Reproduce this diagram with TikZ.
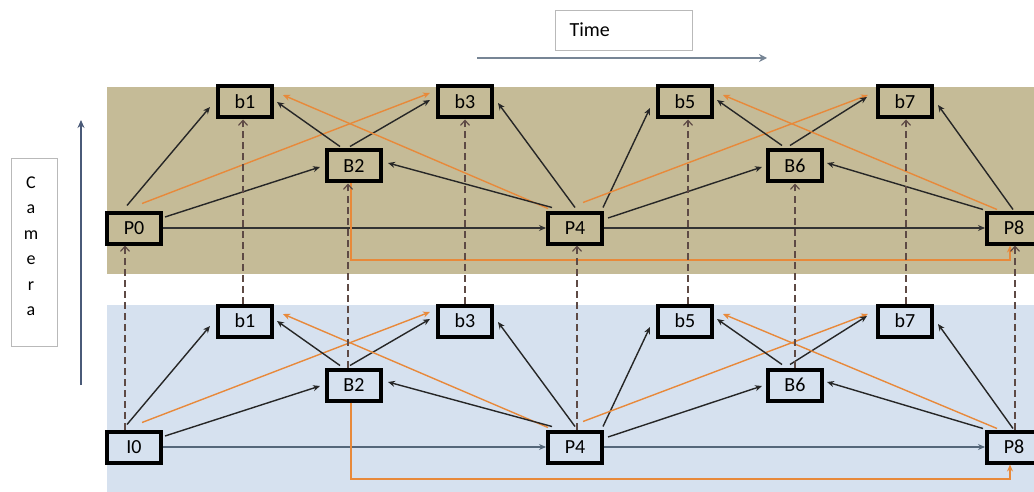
\documentclass[tikz,border=0pt]{standalone}
\usepackage{fontspec}
\setmainfont{Carlito}
\usetikzlibrary{arrows.meta,calc}

\definecolor{khaki}{HTML}{C5BB97}
\definecolor{paleblue}{HTML}{D6E1EF}
\definecolor{refor}{HTML}{E8893A}
\definecolor{interview}{HTML}{5E4A45}
\definecolor{slate}{HTML}{55677A}
\definecolor{axisblue}{HTML}{4A5A78}

\begin{document}
\begin{tikzpicture}[x=1pt,y=-1pt,
  frame/.style={draw=black, line width=4pt, minimum width=54pt, minimum height=31pt,
    inner sep=0pt, font=\fontsize{20}{20}\selectfont},
  pred/.style={-{Stealth[length=7pt,width=6pt]}, line width=1.4pt, draw=black!85},
  bipred/.style={-{Stealth[length=7pt,width=6pt]}, line width=1.4pt, draw=refor},
  chain/.style={-{Stealth[length=7pt,width=6pt]}, line width=1.7pt},
  interview/.style={-{Straight Barb[length=5pt,width=9pt]}, line width=1.2pt, draw=interview,
    dash pattern=on 7pt off 4pt},
  label box/.style={draw=gray!55, line width=0.8pt}]

\useasboundingbox (0,0) rectangle (1034,492);
\clip (0,0) rectangle (1034,492);

% view bands
\fill[khaki] (107,87) rectangle (1034,274);
\fill[paleblue] (107,305) rectangle (1034,492);

% time axis
\node[label box, minimum width=137pt, minimum height=40pt] (timebox) at (623.5,30) {};
\node[anchor=west, font=\fontsize{20}{20}\selectfont] (timelbl) at (566,30) {Time};
\coordinate (t0) at (477,58);
\coordinate (t1) at (767,58);
\draw[line width=2.2pt, draw=slate!80, -{Stealth[length=8pt,width=8pt]}] (t0) -- (t1);

% camera axis
\node[label box, minimum width=46pt, minimum height=188pt] (cambox) at (34,252) {};
\node[align=center, font=\fontsize{18}{25.5}\selectfont] (camlbl) at (31,246) {C\\a\\m\\e\\r\\a};
\coordinate (c0) at (81,385);
\coordinate (c1) at (81,120);
\draw[line width=1.2pt, draw=axisblue, -{Stealth[length=8pt,width=7pt]}] (c0) -- (c1);

% the two views: frames and their prediction links
\foreach \L/\dy/\first/\fc/\hc in {t/0/P0/khaki/black!80, b/219/I0/paleblue/slate}{
  \node[frame, fill=\fc] (\L0)  at (134,{228+\dy}) {\first};
  \node[frame, fill=\fc] (\L b1) at (245,{102+\dy}) {b1};
  \node[frame, fill=\fc] (\L B2) at (354,{166+\dy}) {B2};
  \node[frame, fill=\fc] (\L b3) at (465,{102+\dy}) {b3};
  \node[frame, fill=\fc] (\L P4) at (575,{228+\dy}) {P4};
  \node[frame, fill=\fc] (\L b5) at (685,{102+\dy}) {b5};
  \node[frame, fill=\fc] (\L B6) at (795,{166+\dy}) {B6};
  \node[frame, fill=\fc] (\L b7) at (905,{102+\dy}) {b7};
  \node[frame, fill=\fc] (\L P8) at (1014,{228+\dy}) {P8};

  % anchor-frame chain
  \draw[chain, draw=\hc] (\L0.east) -- (\L P4.west);
  \draw[chain, draw=\hc] (\L P4.east) -- (\L P8.west);

  % first GOP
  \draw[pred] ($(\L0.north)+(-7,-5)$) -- ($(\L b1.west)+(-6,5)$);
  \draw[pred] ($(\L0.east)+(2,-11)$) -- ($(\L B2.west)+(-5,1)$);
  \draw[bipred] ($(\L0.north)+(8,-7)$) -- ($(\L b3.west)+(-6,-9)$);
  \draw[pred] ($(\L B2.north)+(-14,-2)$) -- ($(\L b1.east)+(3,0)$);
  \draw[pred] ($(\L B2.north)+(-4,-2)$) -- ($(\L b3.west)+(-6,-2)$);
  \draw[bipred] ($(\L P4.north west)+(2,-2)$) -- ($(\L b1.east)+(9,-7)$);
  \draw[pred] ($(\L P4.north west)+(6,-3)$) -- ($(\L B2.east)+(5,-3)$);
  \draw[pred] ($(\L P4.north)+(0,-3)$) -- ($(\L b3.east)+(4,1)$);

  % second GOP
  \draw[pred] ($(\L P4.north east)+(-1,-3)$) -- ($(\L b5.west)+(-6,6)$);
  \draw[bipred] ($(\L P4.north)+(8,-8)$) -- ($(\L b7.west)+(-8,-7)$);
  \draw[pred] ($(\L P4.east)+(4,-10)$) -- ($(\L B6.west)+(-4,1)$);
  \draw[pred] ($(\L B6.north)+(-13,-3)$) -- ($(\L b5.east)+(3,-2)$);
  \draw[pred] ($(\L B6.north)+(-5,-3)$) -- ($(\L b7.west)+(-9,-5)$);
  \draw[bipred] ($(\L P8.north)+(-17,-1)$) -- ($(\L b5.east)+(9,-7)$);
  \draw[pred] ($(\L P8.north west)+(-2,-1)$) -- ($(\L B6.east)+(3,-3)$);
  \draw[pred] ($(\L P8.north)+(-1,-1)$) -- ($(\L b7.east)+(4,3)$);

  % long-range reference B2 -> P8
  \draw[bipred] ($(\L B2.south)+(-3,0)$) -- ++(0,76.5) -| ($(\L P8.south)+(-4,0)$);
}

% inter-view prediction
\draw[interview] ($(b0.north)+(-9,0)$) -- ($(t0.south)+(-9,0)$);
\draw[interview] ($(bb1.north)+(-2,0)$) -- ($(tb1.south)+(-2,0)$);
\draw[interview] ($(bB2.north)+(-6,0)$) -- ($(tB2.south)+(-6,0)$);
\draw[interview] (bb3.north) -- (tb3.south);
\draw[interview] ($(bP4.north)+(2,0)$) -- ($(tP4.south)+(2,0)$);
\draw[interview] ($(bb5.north)+(3,0)$) -- ($(tb5.south)+(3,0)$);
\draw[interview] (bB6.north) -- (tB6.south);
\draw[interview] ($(bb7.north)+(1,0)$) -- ($(tb7.south)+(1,0)$);
\draw[interview] ($(bP8.north)+(1,0)$) -- ($(tP8.south)+(1,0)$);
\end{tikzpicture}
\end{document}
